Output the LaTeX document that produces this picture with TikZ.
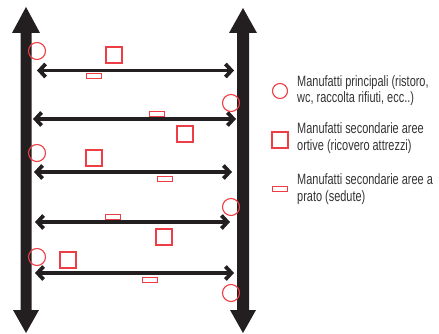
\documentclass[tikz,border=0pt]{standalone}
\usepackage{fontspec}
\setmainfont{Liberation Sans}[FakeStretch=0.73]
\usetikzlibrary{arrows.meta}
\definecolor{ink}{HTML}{231F20}
\definecolor{mred}{HTML}{EE3D45}
\definecolor{txt}{HTML}{333333}
\tikzset{
  bigarrow/.style={fill=ink, draw=none},
  link/.style={draw=ink, line width=3.8pt, {Straight Barb[length=6pt,width=13pt]}-{Straight Barb[length=6pt,width=13pt]}},
  mainbox/.style={circle, draw=mred, line width=1.1pt, minimum size=17pt, inner sep=0pt},
  secbox/.style={rectangle, draw=mred, line width=1.1pt, minimum width=16pt, minimum height=16pt, inner sep=0pt},
  seatbox/.style={rectangle, draw=mred, line width=1.1pt, minimum width=15pt, minimum height=5.5pt, inner sep=0pt},
  legtext/.style={anchor=base west, align=left, text=txt, font=\fontsize{15}{17}\selectfont, inner sep=0pt}
}
\begin{document}
\begin{tikzpicture}[x=1pt,y=-1pt]
\useasboundingbox (0,0) rectangle (439,334);
% vertical arrows
\fill[bigarrow] (26,7) -- (40,33) -- (31.5,33) -- (31.5,310) -- (39,310) -- (26,333) -- (13,310) -- (20.5,310) -- (20.5,33) -- (12,33) -- cycle;
\fill[bigarrow] (243,8) -- (257,33) -- (249,33) -- (249,310) -- (256,310) -- (243,333) -- (230,310) -- (237,310) -- (237,33) -- (229,33) -- cycle;
% end points of horizontal links
\coordinate (l1) at (37,70.5);  \coordinate (r1) at (234,70.5);
\coordinate (l2) at (33,119); \coordinate (r2) at (236,119);
\coordinate (l3) at (34,172); \coordinate (r3) at (232,172);
\coordinate (l4) at (35,222); \coordinate (r4) at (230,222);
\coordinate (l5) at (35,273); \coordinate (r5) at (234,273);
\foreach \i in {1,...,5} \draw[link] (l\i) -- (r\i);
% circles
\node[mainbox] (c1) at (37,51) {};
\node[mainbox] (c2) at (231,103) {};
\node[mainbox] (c3) at (37,153) {};
\node[mainbox] (c4) at (231,207) {};
\node[mainbox] (c5) at (37,257) {};
\node[mainbox] (c6) at (231,293) {};
% squares
\node[secbox] (s1) at (114,55) {};
\node[secbox] (s2) at (185,134) {};
\node[secbox] (s3) at (94,158) {};
\node[secbox] (s4) at (164,237) {};
\node[secbox] (s5) at (68,260) {};
% small rectangles
\node[seatbox] (p1) at (94,76) {};
\node[seatbox] (p2) at (157,114) {};
\node[seatbox] (p3) at (165,179) {};
\node[seatbox] (p4) at (113,217) {};
\node[seatbox] (p5) at (150,280) {};
% legend
\node[mainbox, minimum size=15pt] (lc) at (280,91) {};
\node[secbox] (ls) at (280,140) {};
\node[seatbox] (lp) at (280,189) {};
\node[legtext] (t1) at (297,103) {Manufatti principali (ristoro,\\wc, raccolta rifiuti, ecc..)};
\node[legtext] (t2) at (297,150) {Manufatti secondarie aree\\ortive (ricovero attrezzi)};
\node[legtext] (t3) at (297,201) {Manufatti secondarie aree a\\prato (sedute)};
\end{tikzpicture}
\end{document}
